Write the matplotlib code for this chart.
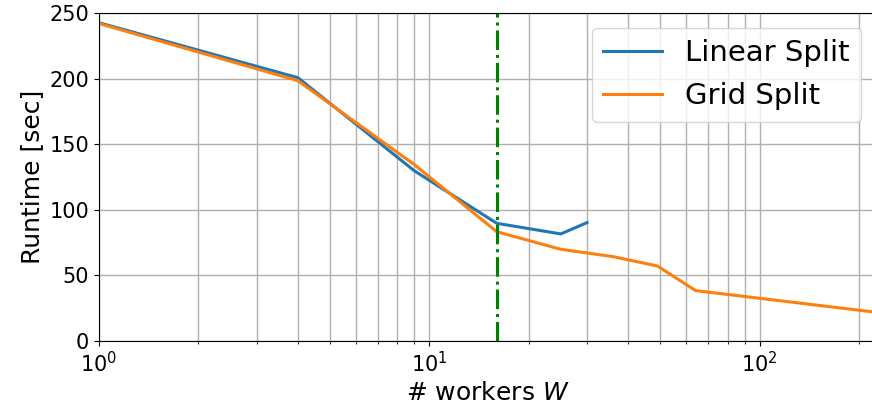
import numpy as np
import matplotlib.pyplot as plt

# runtime measurements per number of workers
w_linear = [1, 4, 9, 16, 25, 30]
t_linear = [242.6, 200.7, 129.8, 89.7, 81.6, 90.2]
w_grid = [1, 4, 9, 16, 25, 36, 49, 64, 225]
t_grid = [242.0, 198.4, 134.5, 83.3, 69.9, 64.3, 57.2, 38.4, 21.9]
w_mark = 16

fig = plt.figure(figsize=(8.72, 4.09), dpi=100)
ax = fig.add_axes([0.1135, 0.1663, 0.8911, 0.8019])
ax.plot(w_linear, t_linear, color='tab:blue', lw=2.2, label='Linear Split')
ax.plot(w_grid, t_grid, color='tab:orange', lw=2.2, label='Grid Split')
ax.axvline(w_mark, color='green', ls='-.', lw=2.2)
ax.set_xscale('log')
ax.set_xlim(1, 225)
ax.set_ylim(0, 250)
ax.grid(True, which='both', color='#b0b0b0', lw=1.0)
ax.tick_params(labelsize=15)
ax.set_xlabel('# workers $W$', fontsize=18)
ax.set_ylabel('Runtime [sec]', fontsize=18)
ax.legend(loc='upper right', fontsize=21, framealpha=0.8)
plt.savefig('out.png')
